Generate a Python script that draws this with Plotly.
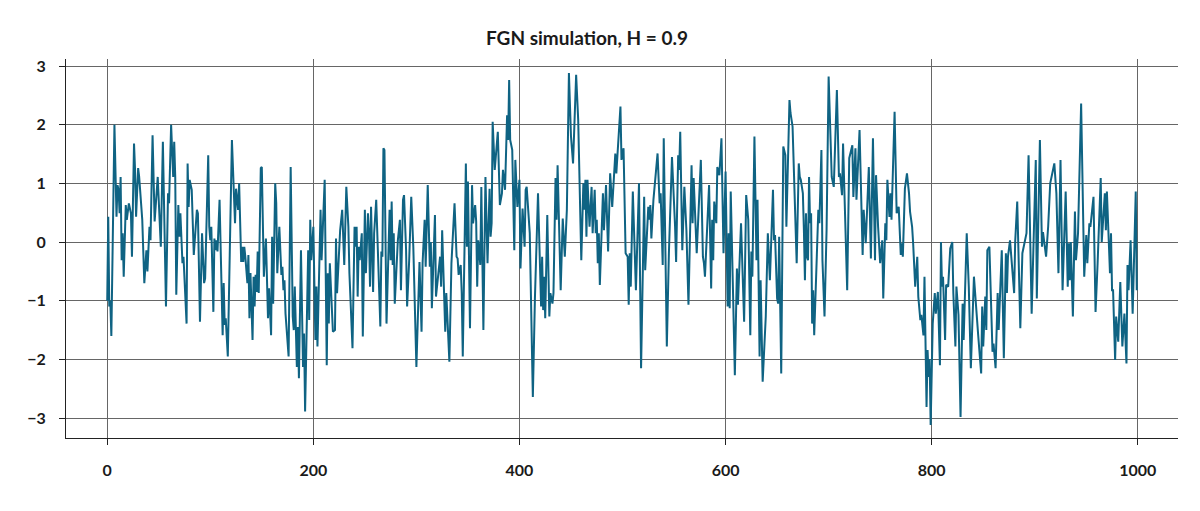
import plotly.graph_objects as go

title_text = "FGN simulation, H = 0.9"

t_index = [
    0, 1, 2, 3, 4, 7, 9, 10, 11, 12, 13, 14, 15, 16, 18, 19, 21, 23, 24, 26, 27, 28, 30, 31, 34, 36, 38, 39, 41, 42,
    44, 46, 49, 52, 54, 57, 59, 60, 62, 64, 65, 66, 67, 69, 70, 71, 73, 74, 77, 78, 79, 80, 82, 83, 84, 87, 88, 90, 92, 94,
    95, 98, 99, 100, 101, 103, 104, 105, 106, 107, 109, 112, 113, 114, 115, 117, 121, 124, 125, 127, 128, 130, 131, 132, 133, 134, 136, 137, 138, 139,
    141, 142, 143, 144, 145, 146, 147, 149, 150, 152, 154, 156, 157, 159, 160, 161, 163, 164, 165, 167, 169, 170, 171, 172, 173, 176, 178, 180, 181, 182,
    184, 185, 186, 188, 190, 191, 192, 195, 196, 197, 198, 200, 202, 203, 204, 207, 208, 211, 213, 214, 215, 216, 217, 219, 221, 222, 223, 225, 226, 228,
    230, 232, 234, 235, 238, 240, 241, 242, 243, 244, 245, 247, 248, 250, 251, 253, 254, 255, 256, 258, 259, 261, 265, 266, 267, 268, 269, 271, 274, 275,
    276, 277, 278, 279, 281, 282, 284, 285, 287, 288, 290, 291, 293, 295, 297, 300, 303, 305, 306, 308, 309, 311, 313, 314, 315, 318, 319, 321, 323, 324,
    325, 328, 329, 332, 334, 337, 339, 340, 341, 343, 344, 345, 347, 348, 349, 350, 352, 354, 355, 357, 358, 359, 360, 362, 363, 365, 367, 368, 369, 371,
    372, 373, 374, 376, 379, 381, 383, 384, 386, 388, 389, 390, 391, 393, 395, 396, 398, 400, 401, 403, 405, 406, 407, 410, 411, 413, 415, 418, 421, 422,
    423, 424, 425, 427, 429, 430, 432, 433, 435, 436, 437, 440, 442, 444, 446, 448, 450, 452, 455, 456, 457, 460, 462, 463, 464, 465, 466, 468, 470, 471,
    473, 474, 475, 476, 477, 478, 481, 482, 484, 486, 488, 490, 493, 494, 498, 499, 501, 503, 505, 506, 507, 508, 510, 513, 516, 518, 521, 522, 525, 526,
    527, 528, 530, 534, 536, 537, 539, 540, 543, 545, 546, 548, 551, 552, 554, 555, 556, 558, 560, 562, 564, 567, 568, 569, 572, 576, 578, 579, 580, 584,
    586, 587, 588, 589, 591, 592, 594, 596, 598, 600, 602, 603, 604, 605, 607, 609, 611, 612, 615, 618, 620, 622, 624, 625, 626, 628, 630, 631, 633, 634,
    636, 639, 641, 643, 646, 647, 648, 650, 651, 652, 654, 656, 658, 659, 662, 663, 665, 669, 671, 672, 673, 675, 676, 677, 678, 679, 680, 681, 682, 683,
    684, 685, 686, 689, 690, 691, 693, 694, 696, 698, 700, 703, 705, 708, 710, 711, 713, 714, 716, 718, 720, 723, 724, 726, 727, 730, 733, 734, 736, 739,
    741, 743, 745, 746, 748, 750, 752, 753, 755, 756, 757, 759, 760, 761, 764, 766, 767, 768, 770, 771, 772, 774, 776, 778, 779, 781, 782, 784, 786, 787,
    789, 790, 792, 793, 795, 796, 797, 798, 799, 801, 803, 804, 806, 808, 809, 810, 811, 813, 814, 816, 818, 820, 821, 823, 824, 826, 828, 830, 831, 834,
    836, 838, 841, 844, 845, 848, 849, 850, 852, 853, 854, 856, 859, 860, 862, 864, 865, 868, 870, 872, 873, 874, 876, 880, 881, 883, 886, 888, 890, 892,
    894, 897, 901, 902, 905, 907, 908, 911, 913, 915, 919, 921, 923, 925, 927, 930, 932, 933, 934, 935, 937, 939, 940, 942, 945, 948, 950, 951, 953, 954,
    957, 959, 961, 964, 965, 968, 969, 970, 973, 974, 975, 976, 978, 979, 981, 983, 985, 987, 989, 990, 991, 993, 995, 998, 999,
]

fgn_values = [
    -1.0, 0.43, -1.1, -1.0, -1.6, 2.0, 0.43, 0.97, 0.89, 0.49, 1.11, -0.31, 0.15, -0.59, 0.63, 0.38, 0.66, 0.49, -0.25, 1.68, 1.23, 0.43, 1.26, 1.11, 0.38, -0.7, -0.14, -0.5, 0.26, 0.03,
    1.82, 0.35, 1.11, -0.08, 1.71, -1.1, 0.83, 0.66, 2.0, 1.11, 1.71, 1.11, -0.9, 0.63, 0.09, 0.49, -0.36, -0.25, -1.39, 1.34, 0.6, 1.06, 0.89, 0.2, -0.22, 0.55, 0.49, -1.36, 0.15, -0.7,
    -0.62, 1.48, 0.26, 0.03, 0.26, -1.19, 0.06, -0.14, 0.03, -0.16, 0.72, -1.59, -0.7, -1.41, -1.3, -1.95, 1.74, 0.32, 0.91, 0.55, 1.0, -0.34, -0.08, -0.34, -0.08, -0.25, -0.7, -0.22, -1.3, -0.53,
    -1.67, -0.59, -1.1, -0.56, -0.85, -0.16, -0.87, 1.26, 1.28, -0.59, 0.06, -1.3, -0.79, -1.59, 0.09, -1.05, 1.0, 0.66, -0.53, 0.26, -0.56, -0.42, -0.82, -0.65, -1.22, -1.95, 1.28, -1.27, -1.5, -0.76,
    -2.13, -1.45, -2.32, -0.14, -2.13, -1.56, -2.89, -0.14, -1.33, 0.38, -0.31, 0.26, -1.67, -0.76, -1.78, 0.55, -0.31, 1.06, -2.1, -0.53, -1.39, -0.36, -0.82, -1.53, -1.5, 0.06, -0.87, 0.0, 0.2, 0.55,
    -0.39, 0.94, 0.26, -0.53, -1.81, 0.26, -0.08, 0.26, -0.93, -0.08, -0.31, 0.15, -1.61, 0.55, -0.53, 0.49, 0.15, -0.76, 0.6, -0.85, 0.15, 0.72, -1.44, -0.16, -0.25, 1.6, 1.57, -1.39, 0.55, -0.31,
    0.69, -0.39, 0.15, -1.05, -0.25, 0.03, 0.38, -0.82, 0.72, 0.8, -0.14, -1.1, -0.31, 0.77, -0.08, -2.13, -0.34, -1.53, -0.36, 0.38, -0.42, 0.97, -0.42, 0.0, -1.13, 0.46, -0.93, -0.59, -0.25, -0.76,
    0.2, -1.53, -0.87, -2.04, -0.36, 0.66, -0.25, -0.28, -0.56, -0.39, -0.87, -1.95, -0.08, 1.34, -0.08, 1.03, -1.47, 0.97, 0.32, 0.63, 0.35, -0.76, 0.03, -0.39, 0.94, -1.5, 1.11, 0.03, -0.36, 0.91,
    0.09, 0.32, 2.05, 1.23, 1.88, 0.63, 0.83, 1.23, 0.89, 2.16, 1.74, 2.76, 1.74, 1.57, -0.14, 1.4, 0.6, 1.06, -0.45, 0.57, -0.08, 0.89, 0.94, 0.15, -1.05, -2.64, -0.96, 0.83, -1.1, -0.25,
    -1.16, -0.59, -1.3, 0.46, -1.27, -0.87, -1.05, -0.87, 1.09, 0.38, 1.31, -0.82, 0.4, -0.25, 0.55, 2.88, 1.8, 1.34, 2.85, 2.42, 2.08, -0.31, 1.0, 0.55, 1.06, 0.09, 1.06, 0.26, 0.94, 0.15,
    0.89, 0.15, 0.38, -0.36, 0.15, -0.73, 0.83, 0.2, 0.97, -0.16, 1.17, 0.6, 1.51, 1.17, 2.31, 1.4, 1.6, -0.19, -0.25, -1.07, -0.19, -0.76, 0.86, -0.82, 1.0, -2.15, 0.77, -0.48, 0.6, 0.38,
    0.63, 0.06, 0.72, 1.51, 0.66, 0.83, -0.39, 1.77, -1.78, -0.19, 0.26, 1.45, 0.26, -0.34, 1.48, 1.23, 1.88, -0.14, 0.94, 0.2, -1.07, 1.31, 0.32, 1.09, -0.19, 1.4, -0.25, -0.36, -0.59, 0.97,
    -0.79, 0.38, -0.31, 0.69, 0.32, 1.28, 1.14, 1.77, -0.19, 1.2, -1.1, 0.15, -1.13, 0.86, -0.68, -2.27, -0.45, -1.07, 0.32, -1.36, 0.8, 0.38, -1.59, -0.16, -0.59, 1.8, -0.31, 0.72, -1.95, -0.65,
    -2.38, -1.27, 0.15, -0.65, 0.89, 0.03, 0.12, -0.96, -1.05, 0.09, -2.24, 1.63, 1.48, 0.26, 2.42, 2.2, 1.97, -0.36, 1.34, 1.11, 1.06, 0.83, 0.2, -0.65, 0.49, -0.25, -0.31, 1.11, 0.32, 0.49,
    -1.39, -0.82, -1.59, 0.15, 0.55, 0.32, 1.57, -0.31, -1.27, 0.2, 2.82, 1.11, 0.94, 2.59, 1.11, 1.17, 0.8, 1.68, 0.26, -0.82, 1.43, 1.65, 0.77, 1.6, 0.72, 1.91, -0.22, 0.55, -0.02, 1.28,
    -0.28, 1.77, -0.31, 1.14, 0.26, -0.36, 0.03, -0.96, 0.32, 0.03, 1.06, 0.43, 0.83, 0.38, 2.22, 0.49, 0.55, 0.6, -0.22, -0.02, -0.25, 0.91, 1.17, 0.83, 0.52, 0.26, -0.02, -0.76, -0.25, -0.93,
    -1.33, -1.24, -1.59, -0.59, -2.81, -1.84, -2.3, -2.0, -3.12, -1.39, -0.87, -1.22, -0.85, -2.1, 0.0, -0.76, -0.59, -1.67, -0.73, -0.76, -0.11, 0.0, -0.87, -1.78, -0.76, -1.24, -2.98, -1.05, -1.67, 0.15,
    -0.76, -2.15, -0.59, -1.39, -1.56, -2.24, -1.1, -1.78, -0.93, -1.5, -0.14, -0.08, -1.87, -1.73, -2.15, -0.87, -1.5, -0.14, -1.98, -0.19, -0.87, -0.25, 0.03, -0.87, 0.0, 0.69, -1.47, -0.19, 0.0, 0.15,
    1.48, -1.22, 1.4, -0.96, 1.74, -0.08, 0.17, -0.25, 0.26, 1.0, 1.34, 0.83, -0.53, 1.4, -0.82, 0.86, -0.76, -0.02, -0.65, 0.0, -1.27, 0.52, -0.31, 0.15, 2.36, -0.59, 0.12, -0.36, 0.32, 0.26,
    0.77, -1.19, -0.36, 1.09, 0.0, 0.83, 0.2, 0.86, -0.53, 0.15, -0.82, -0.82, -2.01, -1.27, -1.7, -0.68, -1.78, -1.22, -2.07, -0.39, -0.82, 0.03, -1.22, 0.86, -0.82,
]

x_tickvals = [0, 200, 400, 600, 800, 1000]
y_tickvals = [-3, -2, -1, 0, 1, 2, 3]

fig = go.Figure()
fig.add_trace(go.Scatter(
    x=t_index, y=fgn_values, mode="lines",
    line=dict(color="#0f6383", width=2),
    showlegend=False, hoverinfo="x+y",
))

axis_font = dict(family="Lato, 'Open Sans', sans-serif", size=16, color="#1a1a1a")

fig.update_layout(
    width=1200, height=511,
    paper_bgcolor="white", plot_bgcolor="white",
    margin=dict(l=58, r=30, t=51, b=81),
    title=dict(
        text="<b>" + title_text + "</b>", x=0.4825, xanchor="center", y=0.941, yanchor="middle",
        font=dict(family="Lato, 'Open Sans', sans-serif", size=19, color="#1a1a1a"),
    ),
    xaxis=dict(
        range=[-40, 1039], tickvals=x_tickvals, ticktext=[f"<b>{v}</b>" for v in x_tickvals],
        showgrid=True, gridcolor="#666666", gridwidth=1, zeroline=False,
        showline=True, linecolor="#222", linewidth=1,
        ticks="outside", ticklen=6, tickcolor="#222", tickfont=axis_font,
        ticklabelstandoff=12,
    ),
    yaxis=dict(
        range=[-3.34, 3.12], tickvals=y_tickvals,
        ticktext=[f"<b>{v}</b>" if v >= 0 else f"<b>\u2212{abs(v)}</b>" for v in y_tickvals],
        showgrid=True, gridcolor="#666666", gridwidth=1, zeroline=False,
        showline=True, linecolor="#222", linewidth=1,
        ticks="outside", ticklen=6, tickcolor="#222", tickfont=axis_font,
        ticklabelstandoff=10,
    ),
)

fig.write_html("out.html")
